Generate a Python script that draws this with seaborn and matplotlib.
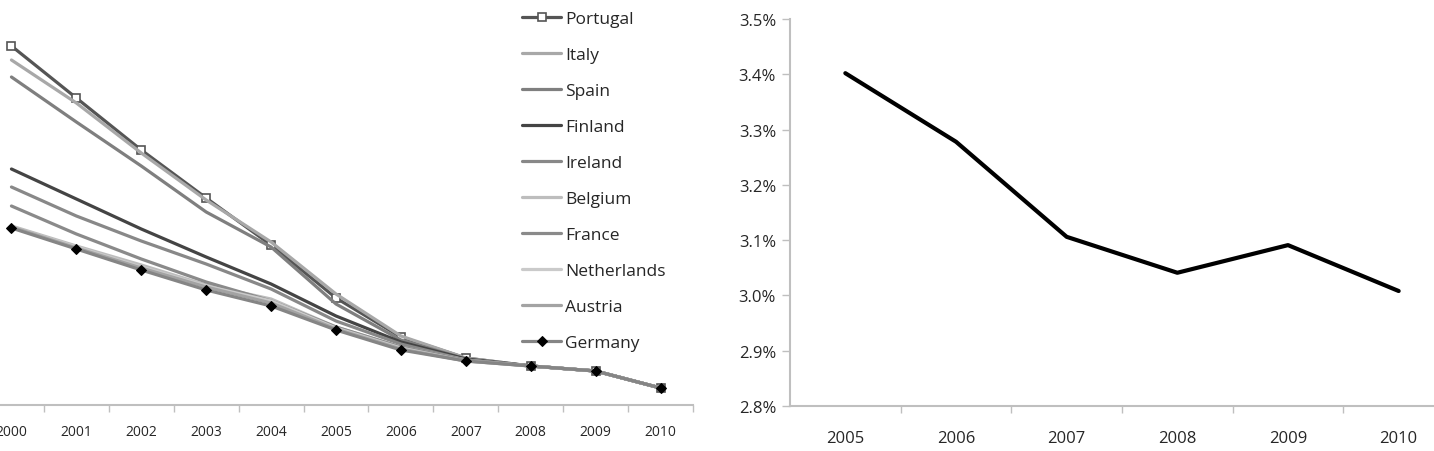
import pandas as pd
import matplotlib
matplotlib.use("Agg")
import matplotlib.pyplot as plt
from matplotlib.ticker import FuncFormatter, FixedLocator
import seaborn as sns

# left panel: country series (y axis is cropped away in the original)
years = [2000, 2001, 2002, 2003, 2004, 2005, 2006, 2007, 2008, 2009, 2010]
countries = ["Portugal", "Italy", "Spain", "Finland", "Ireland",
             "Belgium", "France", "Netherlands", "Austria", "Germany"]
portugal = [3.59, 3.07, 2.55, 2.07, 1.60, 1.07, 0.68, 0.47, 0.39, 0.34, 0.17]
italy = [3.45, 3.02, 2.52, 2.05, 1.63, 1.11, 0.69, 0.47, 0.39, 0.34, 0.17]
spain = [3.28, 2.83, 2.39, 1.93, 1.58, 1.01, 0.65, 0.46, 0.39, 0.34, 0.17]
finland = [2.36, 2.06, 1.76, 1.48, 1.21, 0.89, 0.63, 0.46, 0.39, 0.34, 0.17]
ireland = [2.18, 1.89, 1.64, 1.41, 1.16, 0.84, 0.61, 0.45, 0.39, 0.34, 0.17]
belgium = [1.79, 1.59, 1.40, 1.20, 1.06, 0.78, 0.58, 0.45, 0.39, 0.34, 0.17]
france = [1.99, 1.71, 1.46, 1.23, 1.04, 0.78, 0.58, 0.45, 0.39, 0.34, 0.17]
netherlands = [1.78, 1.58, 1.38, 1.19, 1.04, 0.77, 0.57, 0.44, 0.39, 0.34, 0.17]
austria = [1.78, 1.57, 1.37, 1.18, 1.02, 0.76, 0.56, 0.44, 0.39, 0.34, 0.17]
germany = [1.77, 1.56, 1.35, 1.15, 0.99, 0.75, 0.55, 0.44, 0.39, 0.34, 0.17]

# right panel
years_right = [2005, 2006, 2007, 2008, 2009, 2010]
avg_rate = [3.402, 3.278, 3.106, 3.041, 3.091, 3.008]

series = [portugal, italy, spain, finland, ireland,
          belgium, france, netherlands, austria, germany]
colors = ["#555555", "#a8a8a8", "#7f7f7f", "#444444", "#888888",
          "#bdbdbd", "#8a8a8a", "#cacaca", "#a3a3a3", "#858585"]

sns.set_theme(style="white")
plt.rcParams["font.family"] = ["Open Sans", "DejaVu Sans"]
text_col = "#262626"
axis_col = "#bfbfbf"

fig = plt.figure(figsize=(14.34, 4.52), dpi=100)
W, H = 1434, 452
ax1 = fig.add_axes([-21 / W, 46 / H, 714 / W, 386 / H])
ax2 = fig.add_axes([790 / W, 45 / H, 664 / W, 387 / H])

rows = []
for name, vals in zip(countries, series):
    for yr, v in zip(years, vals):
        rows.append({"year": yr, "value": v, "country": name})
df = pd.DataFrame(rows)

for name, col in zip(countries, colors):
    sub = df[df["country"] == name]
    kw = {}
    if name == "Portugal":
        kw = dict(marker="s", markersize=6, markerfacecolor="white",
                  markeredgecolor="#555555", markeredgewidth=1.2)
    elif name == "Germany":
        kw = dict(marker="D", markersize=5, markerfacecolor="black",
                  markeredgecolor="black")
    sns.lineplot(data=sub, x="year", y="value", ax=ax1, color=col,
                 linewidth=2.3, label=name, **kw)

ax1.set_xlim(1999.5, 2010.5)
ax1.set_ylim(0, 3.86)
ax1.set_xticks(years)
ax1.set_xticklabels([str(y) for y in years])
ax1.xaxis.set_minor_locator(FixedLocator([y + 0.5 for y in years]))
ax1.tick_params(axis="x", which="major", length=0, pad=14, labelsize=10,
                labelcolor=text_col)
ax1.tick_params(axis="x", which="minor", length=5, width=1, color=axis_col,
                direction="out", bottom=True)
ax1.set_yticks([])
ax1.set_xlabel("")
ax1.set_ylabel("")
for s in ["top", "right", "left"]:
    ax1.spines[s].set_visible(False)
ax1.spines["bottom"].set_color(axis_col)
ax1.spines["bottom"].set_linewidth(1.5)

ax1.legend(loc="upper left", bbox_to_anchor=(522 / W, 1 - 12 / H),
           bbox_transform=fig.transFigure, frameon=False, fontsize=12.5,
           labelspacing=1.14, handlelength=2.25, handletextpad=0.22,
           borderpad=0, borderaxespad=0, labelcolor=text_col)

sns.lineplot(x=years_right, y=avg_rate, ax=ax2, color="black", linewidth=3)
ax2.set_xlim(2004.5, 2010.5)
ax2.set_ylim(2.8, 3.5)
ax2.set_yticks([2.8, 2.9, 3.0, 3.1, 3.2, 3.3, 3.4, 3.5])
ax2.yaxis.set_major_formatter(FuncFormatter(lambda v, p: f"{v:.1f}%"))
ax2.set_xticks(years_right)
ax2.set_xticklabels([str(y) for y in years_right])
ax2.xaxis.set_minor_locator(FixedLocator([y + 0.5 for y in years_right]))
ax2.tick_params(axis="x", which="major", length=0, pad=17, labelsize=12,
                labelcolor=text_col)
ax2.tick_params(axis="x", which="minor", length=5, width=1, color=axis_col,
                direction="out", bottom=True)
ax2.tick_params(axis="y", length=6, width=1, color=axis_col, direction="out",
                left=True, pad=4, labelsize=12, labelcolor=text_col)
for s in ["top", "right"]:
    ax2.spines[s].set_visible(False)
for s in ["bottom", "left"]:
    ax2.spines[s].set_color(axis_col)
    ax2.spines[s].set_linewidth(1.5)

fig.savefig("out.png", dpi=100)
